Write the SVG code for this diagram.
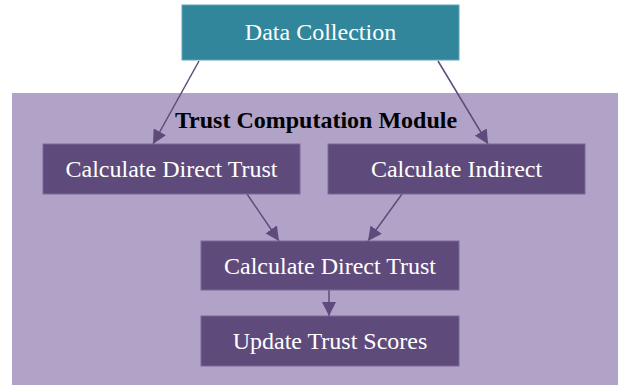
<svg xmlns="http://www.w3.org/2000/svg" width="618" height="385" viewBox="0 0 618 385">
  <style>
    .label { font-family: "Liberation Serif", "Times New Roman", serif; font-size: 24px; fill: #ffffff; text-anchor: middle; }
    .title { font-family: "Liberation Serif", "Times New Roman", serif; font-size: 24px; font-weight: bold; fill: #000000; text-anchor: middle; }
    .step { fill: #5F4B7B; stroke: #7A6895; stroke-width: 1; }
    .source { fill: #31869B; stroke: #5FA6B6; stroke-width: 1; }
    .edge { stroke: #5F4B7B; stroke-width: 1.5; fill: none; marker-end: url(#arrow); }
  </style>
  <defs>
    <marker id="arrow" markerUnits="userSpaceOnUse" markerWidth="14" markerHeight="14" refX="14" refY="7" orient="auto">
      <path d="M0,0 L14,7 L0,14 z" fill="#5F4B7B"/>
    </marker>
  </defs>

  <rect width="618" height="385" fill="#ffffff"/>

  <!-- module cluster -->
  <g id="cluster-trust-computation">
    <rect x="12" y="93" width="606" height="292" fill="#B1A2C8"/>
    <text class="title" x="316" y="128">Trust Computation Module</text>
  </g>

  <!-- connectors -->
  <g id="connectors">
    <line class="edge" x1="199" y1="61" x2="153" y2="144"/>
    <line class="edge" x1="438" y1="61" x2="488" y2="144"/>
    <line class="edge" x1="247" y1="194" x2="279" y2="241"/>
    <line class="edge" x1="402" y1="194" x2="368" y2="241"/>
    <line class="edge" x1="329" y1="290" x2="329" y2="316"/>
  </g>

  <g id="data-collection">
    <rect class="source" x="182" y="5" width="277" height="55"/>
    <text class="label" x="320.5" y="40">Data Collection</text>
  </g>

  <g id="calc-direct-trust">
    <rect class="step" x="43" y="144" width="257" height="50"/>
    <text class="label" x="171.5" y="177">Calculate Direct Trust</text>
  </g>

  <g id="calc-indirect">
    <rect class="step" x="328" y="144" width="257" height="50"/>
    <text class="label" x="456.5" y="177">Calculate Indirect</text>
  </g>

  <g id="calc-direct-trust-2">
    <rect class="step" x="201" y="241" width="258" height="49"/>
    <text class="label" x="330" y="274">Calculate Direct Trust</text>
  </g>

  <g id="update-trust-scores">
    <rect class="step" x="201" y="316" width="258" height="50"/>
    <text class="label" x="330" y="349">Update Trust Scores</text>
  </g>
</svg>
